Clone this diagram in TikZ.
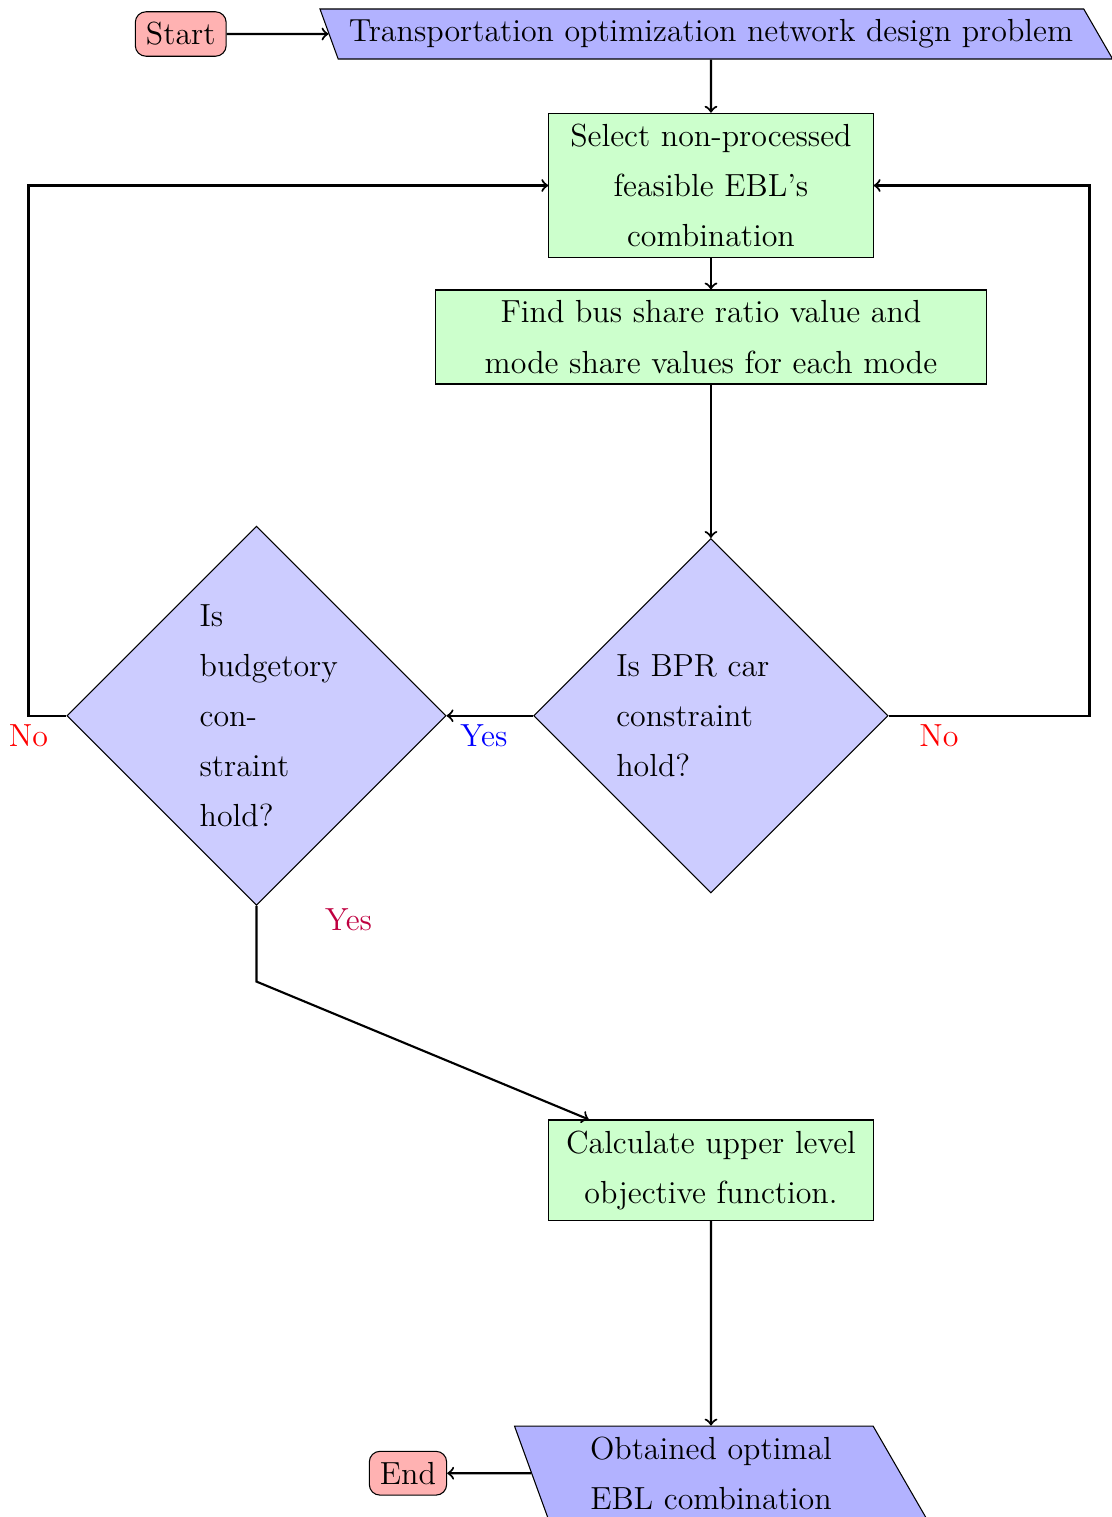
\documentclass[12pt,tikz,border=0pt]{standalone}
\usetikzlibrary{shapes.geometric,positioning}
\linespread{1.3}
\begin{document}
\begin{tikzpicture}[
  startstop/.style={rectangle, rounded corners, draw=black, fill=red!30},
  io/.style={trapezium, trapezium left angle=110, trapezium right angle=60, draw=black, fill=blue!30},
  process/.style={rectangle, draw=black, fill=green!20, text width=4cm, align=center},
  decision/.style={diamond, aspect=1, draw=black, fill=blue!20, align=left},
  arrow/.style={thick, ->}]
  \useasboundingbox (-9.386,0.449) rectangle (5.294,-19.578);
  \node[startstop] (start) at (-7,0) {Start};
  \node[io] (in) at (0,0) {Transportation optimization network design problem};
  \node[process] (pro1) at (0,-2) {Select non-processed\\feasible EBL's\\combination};
  \node[process, text width=7cm] (pro2) at (0,-4) {Find bus share ratio value and\\mode share values for each mode};
  \node[decision, text width=2.5cm] (dec1) at (0,-9) {Is BPR car\\constraint\\hold?};
  \node[decision, text width=1.5cm] (dec2) at (-6,-9) {Is\\budgetory\\con-\\straint\\hold?};
  \node[process] (pro3) at (0,-15) {Calculate upper level\\objective function.};
  \node[io, text width=4cm, align=center] (out) at (0,-19) {Obtained optimal\\EBL combination};
  \node[startstop] (stop) at (-4,-19) {End};
  \draw[arrow] (start) -- (in);
  \draw[arrow] (in) -- (pro1);
  \draw[arrow] (pro1) -- (pro2);
  \draw[arrow] (pro2) -- (dec1);
  \draw[arrow] (dec1.west) -- node[pos=0.57, below=-1pt, blue] (yes1) {Yes} (dec2.east);
  \draw[arrow] (dec1.east) -- node[pos=0.25, below=-1pt, red] (no1) {No} ++(2.65,0) |- (pro1.east);
  \draw[arrow] (dec2.west) -- ++(-0.5,0) node[below=-1pt, red] (no2) {No} |- (pro1.west);
  \draw[arrow] (dec2.south) -- node[pos=0.18, right=0.75cm, purple] (yes2) {Yes} ++(0,-1) -- (pro3);
  \draw[arrow] (pro3) -- (out);
  \draw[arrow] (out) -- (stop);
\end{tikzpicture}
\end{document}
